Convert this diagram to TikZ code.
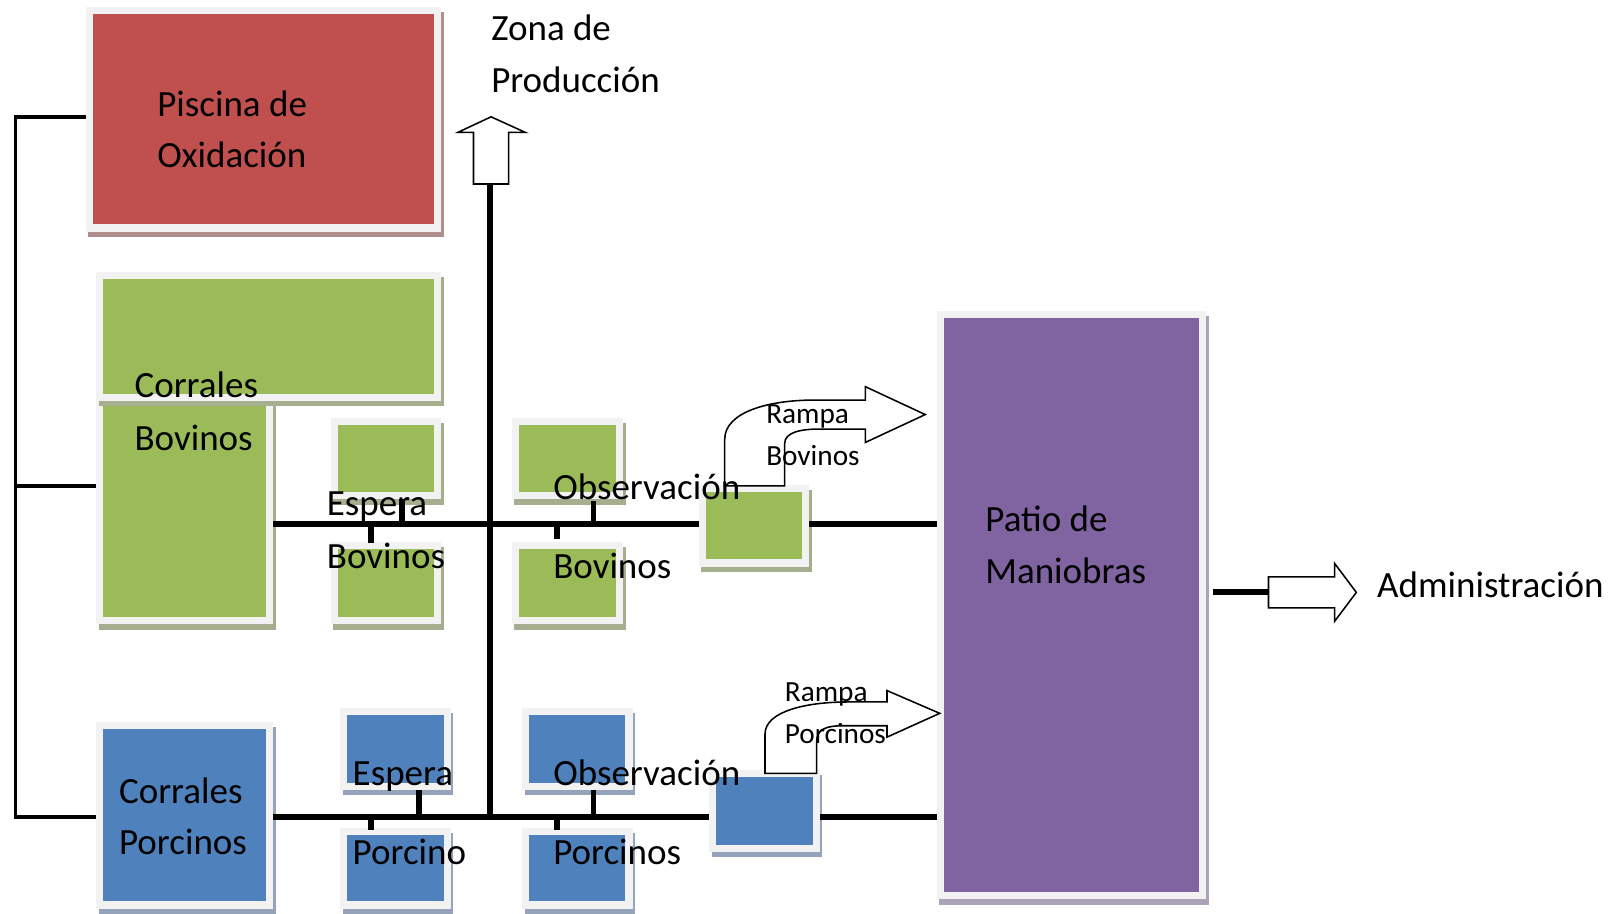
\documentclass[tikz,border=0pt]{standalone}
\usepackage{fontspec}
\setmainfont{Carlito}
\usetikzlibrary{shadows}

\definecolor{framegrey}{HTML}{F2F2F2}
\definecolor{redfill}{HTML}{C0504D}
\definecolor{redshade}{HTML}{B08E8E}
\definecolor{greenfill}{HTML}{9BBB59}
\definecolor{greenshade}{HTML}{A5AE8E}
\definecolor{bluefill}{HTML}{4F81BD}
\definecolor{blueshade}{HTML}{95A3BA}
\definecolor{purplefill}{HTML}{8064A2}
\definecolor{purpleshade}{HTML}{ABA3B7}

\tikzset{
  zone/.style 2 args={fill=framegrey, draw=none, inner sep=0pt, outer sep=0pt,
    anchor=north west,
    general shadow={fill=#2, shadow xshift=2.5pt, shadow yshift=-5pt},
    path picture={\fill[#1]
      ([shift={(7pt,-7pt)}]path picture bounding box.north west) rectangle
      ([shift={(-7pt,7pt)}]path picture bounding box.south east);}},
  bus/.style={line width=5.6pt},
  feeder/.style={line width=3.8pt},
  blockarrow/.style={draw=black, fill=white, line width=1.5pt, line join=miter},
  lbl/.style={font=\fontsize{35.8}{50}\selectfont, anchor=base west, inner sep=0pt},
  smalllbl/.style={font=\fontsize{28.3}{40}\selectfont, anchor=base west, inner sep=0pt},
}

\begin{document}
\begin{tikzpicture}[x=1pt, y=-1pt]
  \fill[white] (0,0) rectangle (1568,884);
  \useasboundingbox (0,0) rectangle (1568,884);

  % ---- areas ----
  \node[zone={redfill}{redshade}, minimum width=344pt, minimum height=217pt] (pis) at (83,7) {};
  \node[zone={greenfill}{greenshade}, minimum width=171pt, minimum height=224pt] (cbtall) at (93,380) {};
  \node[zone={greenfill}{greenshade}, minimum width=334pt, minimum height=125pt] (cbtop) at (93,263) {};
  \node[zone={greenfill}{greenshade}, minimum width=107pt, minimum height=79pt] (ebt) at (320,404) {};
  \node[zone={greenfill}{greenshade}, minimum width=107pt, minimum height=80pt] (ebb) at (320,524) {};
  \node[zone={greenfill}{greenshade}, minimum width=108pt, minimum height=79pt] (obt) at (495,404) {};
  \node[zone={greenfill}{greenshade}, minimum width=108pt, minimum height=80pt] (obb) at (495,524) {};
  \node[zone={greenfill}{greenshade}, minimum width=107pt, minimum height=79pt] (rb) at (676,469) {};

  \node[zone={bluefill}{blueshade}, minimum width=171pt, minimum height=181pt] (cp) at (93,698) {};
  \node[zone={bluefill}{blueshade}, minimum width=107pt, minimum height=79pt] (ept) at (329,685) {};
  \node[zone={bluefill}{blueshade}, minimum width=107pt, minimum height=78pt] (epb) at (329,801) {};
  \node[zone={bluefill}{blueshade}, minimum width=107pt, minimum height=79pt] (opt) at (505,685) {};
  \node[zone={bluefill}{blueshade}, minimum width=107pt, minimum height=78pt] (opb) at (505,801) {};
  \node[zone={bluefill}{blueshade}, minimum width=107pt, minimum height=79pt] (rp) at (686,745) {};

  \node[zone={purplefill}{purpleshade}, minimum width=261pt, minimum height=569pt] (patio) at (906,301) {};

  % ---- junction points ----
  \coordinate (busB) at (474,507);
  \coordinate (busP) at (474,790);
  \coordinate (left) at (15,790);
  \coordinate (admin) at (1227,573);
  \coordinate (prodbase) at (474,178);

  % ---- cattle line ----
  \draw[bus] (cbtall.east |- busB) -- (busB -| rb.west);
  \draw[bus] (busB -| rb.east) -- (busB -| patio.west);
  \draw[bus] (389,483) -- (389,507);
  \draw[bus] (359,507) -- (359,525);
  \draw[bus] (574,485) -- (574,507);
  \draw[bus] (539,507) -- (539,521);

  % ---- pig line ----
  \draw[bus] (cp.east |- busP) -- (busP -| rp.west);
  \draw[bus] (busP -| rp.east) -- (busP -| patio.west);
  \draw[bus] (405,764) -- (405,790);
  \draw[bus] (359,790) -- (359,803);
  \draw[bus] (574,764) -- (574,790);
  \draw[bus] (539,790) -- (539,803);

  % ---- main corridor ----
  \draw[bus] (prodbase) -- (busP);

  % ---- left service line ----
  \draw[feeder] (pis.west |- 15,113) -- (15,113) -- (left) -- (cp.west |- left);
  \draw[feeder] (15,470) -- (cbtall.west |- 15,470);

  % ---- exit to administration ----
  \draw[bus] (patio.east |- admin) ++(6,0) -- (admin);

  % ---- block arrows ----
  \draw[blockarrow] (458,178) -- (458,128) -- (443,128) -- (475,113) -- (508,128)
    -- (492,128) -- (492,178) -- cycle;
  \draw[blockarrow] (admin) ++(0,-15) -- (1291,558) -- (1291,545) -- (1312,573)
    -- (1291,601) -- (1291,588) -- (1227,588) -- cycle;
  \draw[blockarrow] (701,470) -- (701,425) .. controls (701,398) and (745,387) .. (787,387)
    -- (837,387) -- (837,374) -- (895,401) -- (837,428) -- (837,415) -- (793,415)
    .. controls (775,415) and (759,418) .. (759,429) -- (759,470) -- cycle;
  \draw[blockarrow] (740,748) -- (740,710) .. controls (740,688) and (780,679) .. (820,679)
    -- (858,679) -- (858,668) -- (909,690) -- (858,713) -- (858,702) -- (815,702)
    .. controls (800,702) and (790,705) .. (790,717) -- (790,748) -- cycle;

  % ---- labels ----
  \node[lbl] (zona1) at (475,39.5) {Zona de};
  \node[lbl] (zona2) at (475,89.5) {Producción};
  \node[lbl] (pis1) at (152,112.5) {Piscina de};
  \node[lbl] (pis2) at (152,162.5) {Oxidación};
  \node[lbl] (cb1) at (130,384.5) {Corrales};
  \node[lbl] (cb2) at (130,435.5) {Bovinos};
  \node[lbl] (eb1) at (316,498.5) {Espera};
  \node[lbl] (eb2) at (316,550) {Bovinos};
  \node[lbl] (ob1) at (535,483.5) {Observación};
  \node[lbl] (ob2) at (535,560) {Bovinos};
  \node[smalllbl] (rb1) at (741,410) {Rampa};
  \node[smalllbl] (rb2) at (741,450) {Bovinos};
  \node[lbl] (pt1) at (953,514) {Patio de};
  \node[lbl] (pt2) at (953,564) {Maniobras};
  \node[lbl] (adm) at (1332,578) {Administración};
  \node[smalllbl] (rp1) at (759,679) {Rampa};
  \node[smalllbl] (rp2) at (759,719) {Porcinos};
  \node[lbl] (cp1) at (115,777) {Corrales};
  \node[lbl] (cp2) at (115,827) {Porcinos};
  \node[lbl] (ep1) at (341,760) {Espera};
  \node[lbl] (ep2) at (341,836) {Porcino};
  \node[lbl] (op1) at (535,760) {Observación};
  \node[lbl] (op2) at (535,836) {Porcinos};
\end{tikzpicture}
\end{document}
